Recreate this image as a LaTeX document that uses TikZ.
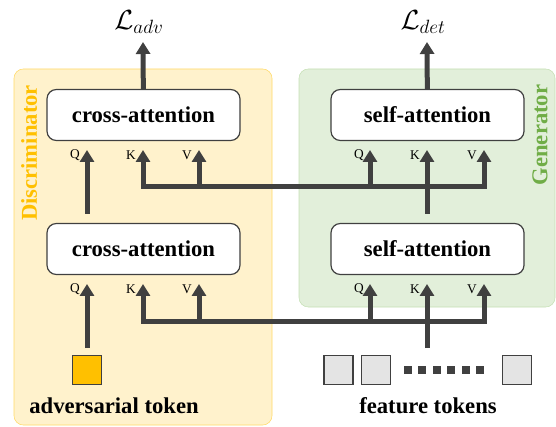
\documentclass[tikz,border=0pt]{standalone}
\usepackage{fontspec}
\setmainfont{Liberation Serif}
\usetikzlibrary{arrows.meta}
\definecolor{linegray}{HTML}{404040}
\definecolor{discfill}{HTML}{FFF2CC}
\definecolor{discline}{HTML}{FFD966}
\definecolor{disctext}{HTML}{FFC000}
\definecolor{genfill}{HTML}{E2EFDA}
\definecolor{genline}{HTML}{C5E0B4}
\definecolor{gentext}{HTML}{70AD47}
\definecolor{tokengray}{HTML}{E4E4E4}
\tikzset{
  attn/.style={draw=linegray, line width=0.9pt, fill=white, rounded corners=7pt,
    minimum width=144.75pt, minimum height=38.25pt, font=\fontsize{17}{20}\selectfont\bfseries},
  qkv/.style={font=\fontsize{10}{11}\selectfont, inner sep=0pt},
  flow/.style={line width=3.75pt, draw=linegray, -{Triangle[width=10.5pt,length=9pt]}},
  bus/.style={line width=3.75pt, draw=linegray, {Triangle[width=10.5pt,length=9pt]}-{Triangle[width=10.5pt,length=9pt]}},
  token/.style={draw=linegray, line width=0.9pt, minimum size=21.75pt, inner sep=0pt},
  bigtext/.style={font=\fontsize{17}{20}\selectfont\bfseries}
}
\begin{document}
\begin{tikzpicture}[x=0.75pt, y=-0.75pt]
  \useasboundingbox (0,0) rectangle (556,427);
  % panels
  \draw[discline, fill=discfill, rounded corners=7pt] (14,69) rectangle (272,425);
  \draw[genline, fill=genfill, rounded corners=7pt] (299,69) rectangle (555,307);
  \node[bigtext, text=disctext, rotate=90] (disc) at (29,153) {Discriminator};
  \node[bigtext, text=gentext, rotate=90] (gen) at (540,135) {Generator};

  % attention blocks
  \node[attn] (ca2) at (143.5,115) {cross-attention};
  \node[attn] (ca1) at (143.5,249) {cross-attention};
  \node[attn] (sa2) at (427.5,115) {self-attention};
  \node[attn] (sa1) at (427.5,249) {self-attention};

  % losses
  \node[font=\huge] (ladv) at (139,22) {$\mathcal{L}_{adv}$};
  \node[font=\huge] (ldet) at (423,22) {$\mathcal{L}_{det}$};
  \coordinate (ladvin) at (143,42);
  \coordinate (ldetin) at (427,42);
  \draw[flow] (ca2) -- (ladvin);
  \draw[flow] (sa2) -- (ldetin);

  % inputs of the upper blocks
  \coordinate (ca2q) at (87,150);
  \coordinate (ca2k) at (143,150);
  \coordinate (ca2v) at (199,150);
  \coordinate (sa2q) at (370,150);
  \coordinate (sa2k) at (427,150);
  \coordinate (sa2v) at (484,150);
  \coordinate (bus2) at (0,187);
  \node[qkv] (ca2ql) at (75,155) {Q};
  \node[qkv] (ca2kl) at (131,155) {K};
  \node[qkv] (ca2vl) at (187,155) {V};
  \node[qkv] (sa2ql) at (359,155) {Q};
  \node[qkv] (sa2kl) at (415,155) {K};
  \node[qkv] (sa2vl) at (472,155) {V};
  \draw[flow] (87,214) -- (ca2q);
  \draw[bus] (ca2k) -- (ca2k |- bus2) -- (sa2v |- bus2) -- (sa2v);
  \draw[flow] (ca2v |- bus2) -- (ca2v);
  \draw[flow] (sa2q |- bus2) -- (sa2q);
  \draw[flow] (427,214) -- (sa2k);

  % inputs of the lower blocks
  \coordinate (ca1q) at (87,284);
  \coordinate (ca1k) at (143,284);
  \coordinate (ca1v) at (199,284);
  \coordinate (sa1q) at (370,284);
  \coordinate (sa1k) at (427,284);
  \coordinate (sa1v) at (484,284);
  \coordinate (bus1) at (0,321);
  \node[qkv] (ca1ql) at (75,289) {Q};
  \node[qkv] (ca1kl) at (131,289) {K};
  \node[qkv] (ca1vl) at (187,289) {V};
  \node[qkv] (sa1ql) at (359,289) {Q};
  \node[qkv] (sa1kl) at (415,289) {K};
  \node[qkv] (sa1vl) at (472,289) {V};
  \draw[flow] (87,348) -- (ca1q);
  \draw[bus] (ca1k) -- (ca1k |- bus1) -- (sa1v |- bus1) -- (sa1v);
  \draw[flow] (ca1v |- bus1) -- (ca1v);
  \draw[flow] (sa1q |- bus1) -- (sa1q);
  \draw[flow] (427,348) -- (sa1k);

  % tokens
  \node[token, fill=disctext] (adv) at (87,370) {};
  \node[token, fill=tokengray] (feat1) at (338.5,370) {};
  \node[token, fill=tokengray] (feat2) at (376,370) {};
  \node[token, fill=tokengray] (featn) at (517,370) {};
  \foreach \i in {0,...,5}
    \fill[linegray] (404+\i*14.4,366) rectangle ++(8,8);
  \node[bigtext] (advlabel) at (114,406) {adversarial token};
  \node[bigtext] (featlabel) at (428,406) {feature tokens};
\end{tikzpicture}
\end{document}
